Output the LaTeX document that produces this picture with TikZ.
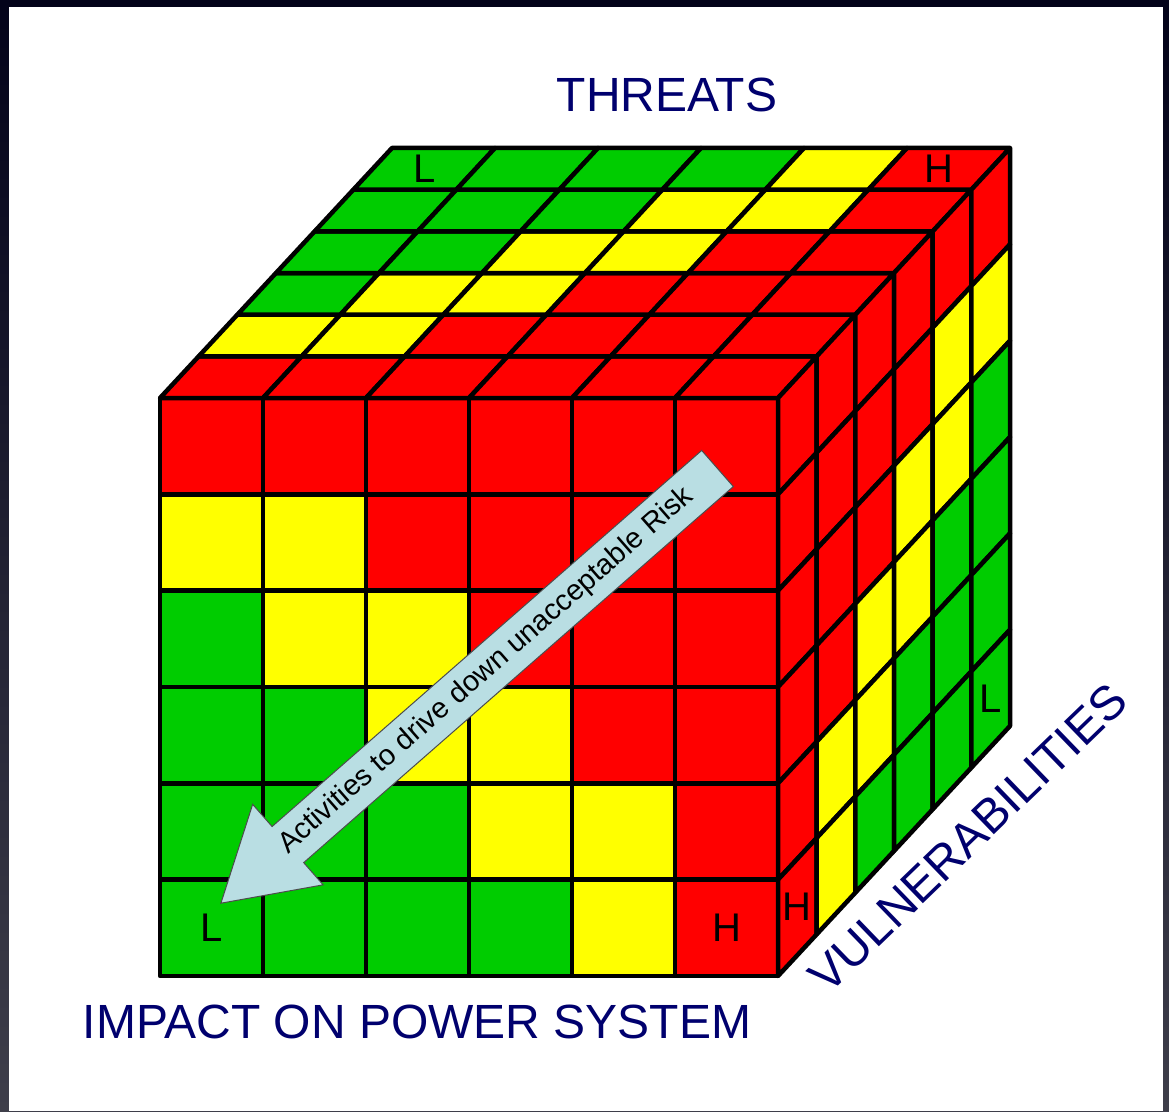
\documentclass[tikz,border=0pt]{standalone}
\usepackage{fontspec}
\setmainfont{Liberation Sans}
\definecolor{riskH}{RGB}{255,0,0}
\definecolor{riskM}{RGB}{255,255,0}
\definecolor{riskL}{RGB}{0,204,0}
\definecolor{axisblue}{RGB}{0,0,110}
\definecolor{arrowfill}{RGB}{185,222,227}
\definecolor{frametop}{RGB}{3,3,26}
\definecolor{framebot}{RGB}{62,62,74}

\begin{document}
\begin{tikzpicture}[x=1pt,y=1pt,
    cell/.style={draw=black,line width=4.5pt,line join=round},
    lvl/.style={inner sep=0pt,font=\fontsize{40}{40}\selectfont},
    axislabel/.style={inner sep=0pt,text=axisblue,font=\fontsize{48}{48}\selectfont}]
  \shade[top color=frametop,bottom color=framebot] (0,0) rectangle (1169,1111);
  \fill[white] (9,0) rectangle (1163,1104);

  \begin{scope}[shift={(160,135)},x={(103pt,0pt)},y={(0pt,96.33pt)},z={(38.67pt,41.67pt)}]
    % front face, rows from the top
    \foreach \row [count=\r] in {{H,H,H,H,H,H},{M,M,H,H,H,H},{L,M,M,H,H,H},{L,L,M,M,H,H},{L,L,L,M,M,H},{L,L,L,L,M,H}}
      \foreach \v [count=\c] in \row
        \filldraw[cell,fill=risk\v] (\c-1,6-\r,0) rectangle (\c,7-\r,0);
    % top face, rows from the front
    \foreach \row [count=\r] in {{H,H,H,H,H,H},{M,M,H,H,H,H},{L,M,M,H,H,H},{L,L,M,M,H,H},{L,L,L,M,M,H},{L,L,L,L,M,H}}
      \foreach \v [count=\c] in \row
        \filldraw[cell,fill=risk\v] (\c-1,6,\r-1) -- (\c,6,\r-1) -- (\c,6,\r) -- (\c-1,6,\r) -- cycle;
    % side face, columns from the front, cells from the top
    \foreach \col [count=\d] in {{H,H,H,H,H,H},{H,H,H,H,M,M},{H,H,H,M,M,L},{H,H,M,M,L,L},{H,M,M,L,L,L},{H,M,L,L,L,L}}
      \foreach \v [count=\r] in \col
        \filldraw[cell,fill=risk\v] (6,6-\r,\d-1) -- (6,7-\r,\d-1) -- (6,7-\r,\d) -- (6,6-\r,\d) -- cycle;

    \node[lvl] (lowfront) at (0.5,0.5,0) {L};
    \node[lvl] (highfront) at (5.5,0.5,0) {H};
    \node[lvl] (highside) at (6,0.5,0.5) {H};
    \node[lvl] (lowside) at (6,0.5,5.5) {L};
    \node[lvl] (lowtop) at (0.5,6,5.5) {L};
    \node[lvl] (hightop) at (5.5,6,5.5) {H};
  \end{scope}

  % arrow across the front face
  \begin{scope}[shift={(717.5,642.5)},rotate=221.2]
    \filldraw[fill=arrowfill,draw=black!70,line width=1pt]
      (0,24) -- (571,24) -- (571,53.5) -- (660,0) -- (571,-53.5) -- (571,-24) -- (0,-24) -- cycle;
    \node[font=\fontsize{29}{29}\selectfont,rotate=41.2,inner sep=0pt] (drive) at (307,0)
      {Activities to drive down unacceptable Risk};
  \end{scope}

  \node[axislabel] (threats) at (667,1016.5) {THREATS};
  \node[axislabel] (impact) at (417,89) {IMPACT ON POWER SYSTEM};
  \node[axislabel,rotate=44] (vuln) at (968,273) {VULNERABILITIES};
\end{tikzpicture}
\end{document}
